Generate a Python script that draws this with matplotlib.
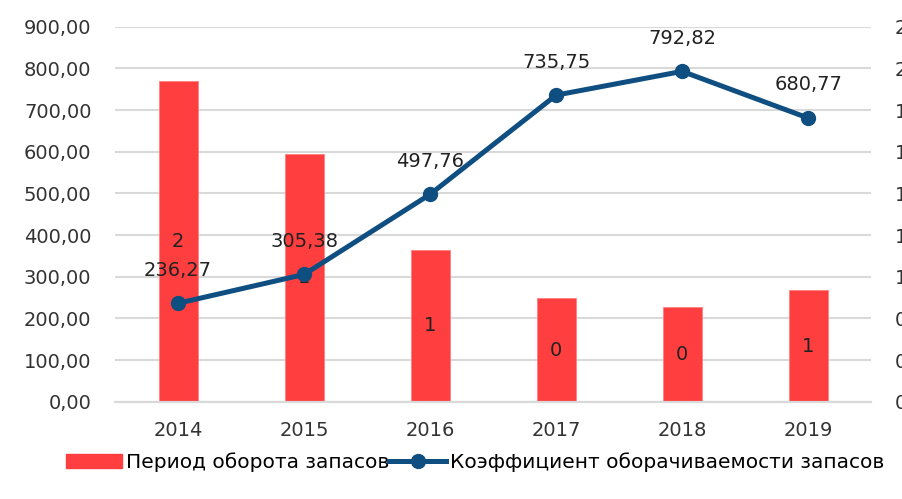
import matplotlib.pyplot as plt
from matplotlib.ticker import MultipleLocator, FuncFormatter
from matplotlib.lines import Line2D
from matplotlib.patches import Patch
import numpy as np

years = ['2014', '2015', '2016', '2017', '2018', '2019']
period = [1.54, 1.19, 0.73, 0.496, 0.456, 0.534]          # bars, right axis
coef = [236.27, 305.38, 497.76, 735.75, 792.82, 680.77]   # line, left axis

bar_color = '#FF3F3F'
line_color = '#0F4E80'
grid_color = '#D9D9D9'
fs = 14

plt.rcParams['font.family'] = ['DejaVu Sans']

fig = plt.figure(figsize=(9.03, 4.99), dpi=100)
ax = fig.add_axes([0.1274, 0.195, 0.8374, 0.7515])
ax2 = ax.twinx()

x = np.arange(len(years))

# bars on the secondary axis, drawn behind the line
ax2.set_zorder(1)
ax.set_zorder(2)
ax.patch.set_visible(False)

bars = ax2.bar(x, period, width=0.31, color=bar_color, edgecolor='#FF8080', linewidth=0.6)
ax2.bar_label(bars, labels=[f'{v:.0f}' for v in period], label_type='center',
              fontsize=fs, color='#222222')
ax2.set_ylim(0, 1.8)
ax2.yaxis.set_major_locator(MultipleLocator(0.2))
ax2.yaxis.set_major_formatter(FuncFormatter(lambda v, p: f'{v:.0f}'))
ax2.tick_params(axis='y', length=0, pad=17, labelsize=fs, labelcolor='#333333')

ax.plot(x, coef, color=line_color, lw=3.6, marker='o', ms=10, zorder=3)
for xi, v in zip(x, coef):
    ax.annotate(f'{v:.2f}'.replace('.', ','), (xi, v), xytext=(0, 17),
                textcoords='offset points', ha='center', va='bottom',
                fontsize=fs, color='#222222')

ax.set_xlim(-0.5, len(years) - 0.5)
ax.set_ylim(0, 900)
ax.yaxis.set_major_locator(MultipleLocator(100))
ax.yaxis.set_major_formatter(FuncFormatter(lambda v, p: f'{v:.2f}'.replace('.', ',')))
ax.set_xticks(x)
ax.set_xticklabels(years)
ax.tick_params(axis='y', length=0, pad=17, labelsize=fs, labelcolor='#333333')
ax.tick_params(axis='x', length=0, pad=14, labelsize=fs, labelcolor='#333333')

ax2.yaxis.grid(True, color=grid_color, lw=1.5)
ax2.set_axisbelow(True)
for a in (ax, ax2):
    for s in ('top', 'left', 'right'):
        a.spines[s].set_visible(False)
    a.spines['bottom'].set_color(grid_color)
    a.spines['bottom'].set_linewidth(1.5)

handles = [Patch(facecolor=bar_color, edgecolor=bar_color),
           Line2D([0], [0], color=line_color, lw=3.6, marker='o', ms=10)]
fig.legend(handles, ['Период оборота запасов', 'Коэффициент оборачиваемости запасов'],
           loc='center', bbox_to_anchor=(0.526, 0.074), ncol=2, frameon=False,
           fontsize=14.5, handlelength=2.8, handletextpad=0.2, columnspacing=0.0)

fig.savefig('out.png', dpi=100)
